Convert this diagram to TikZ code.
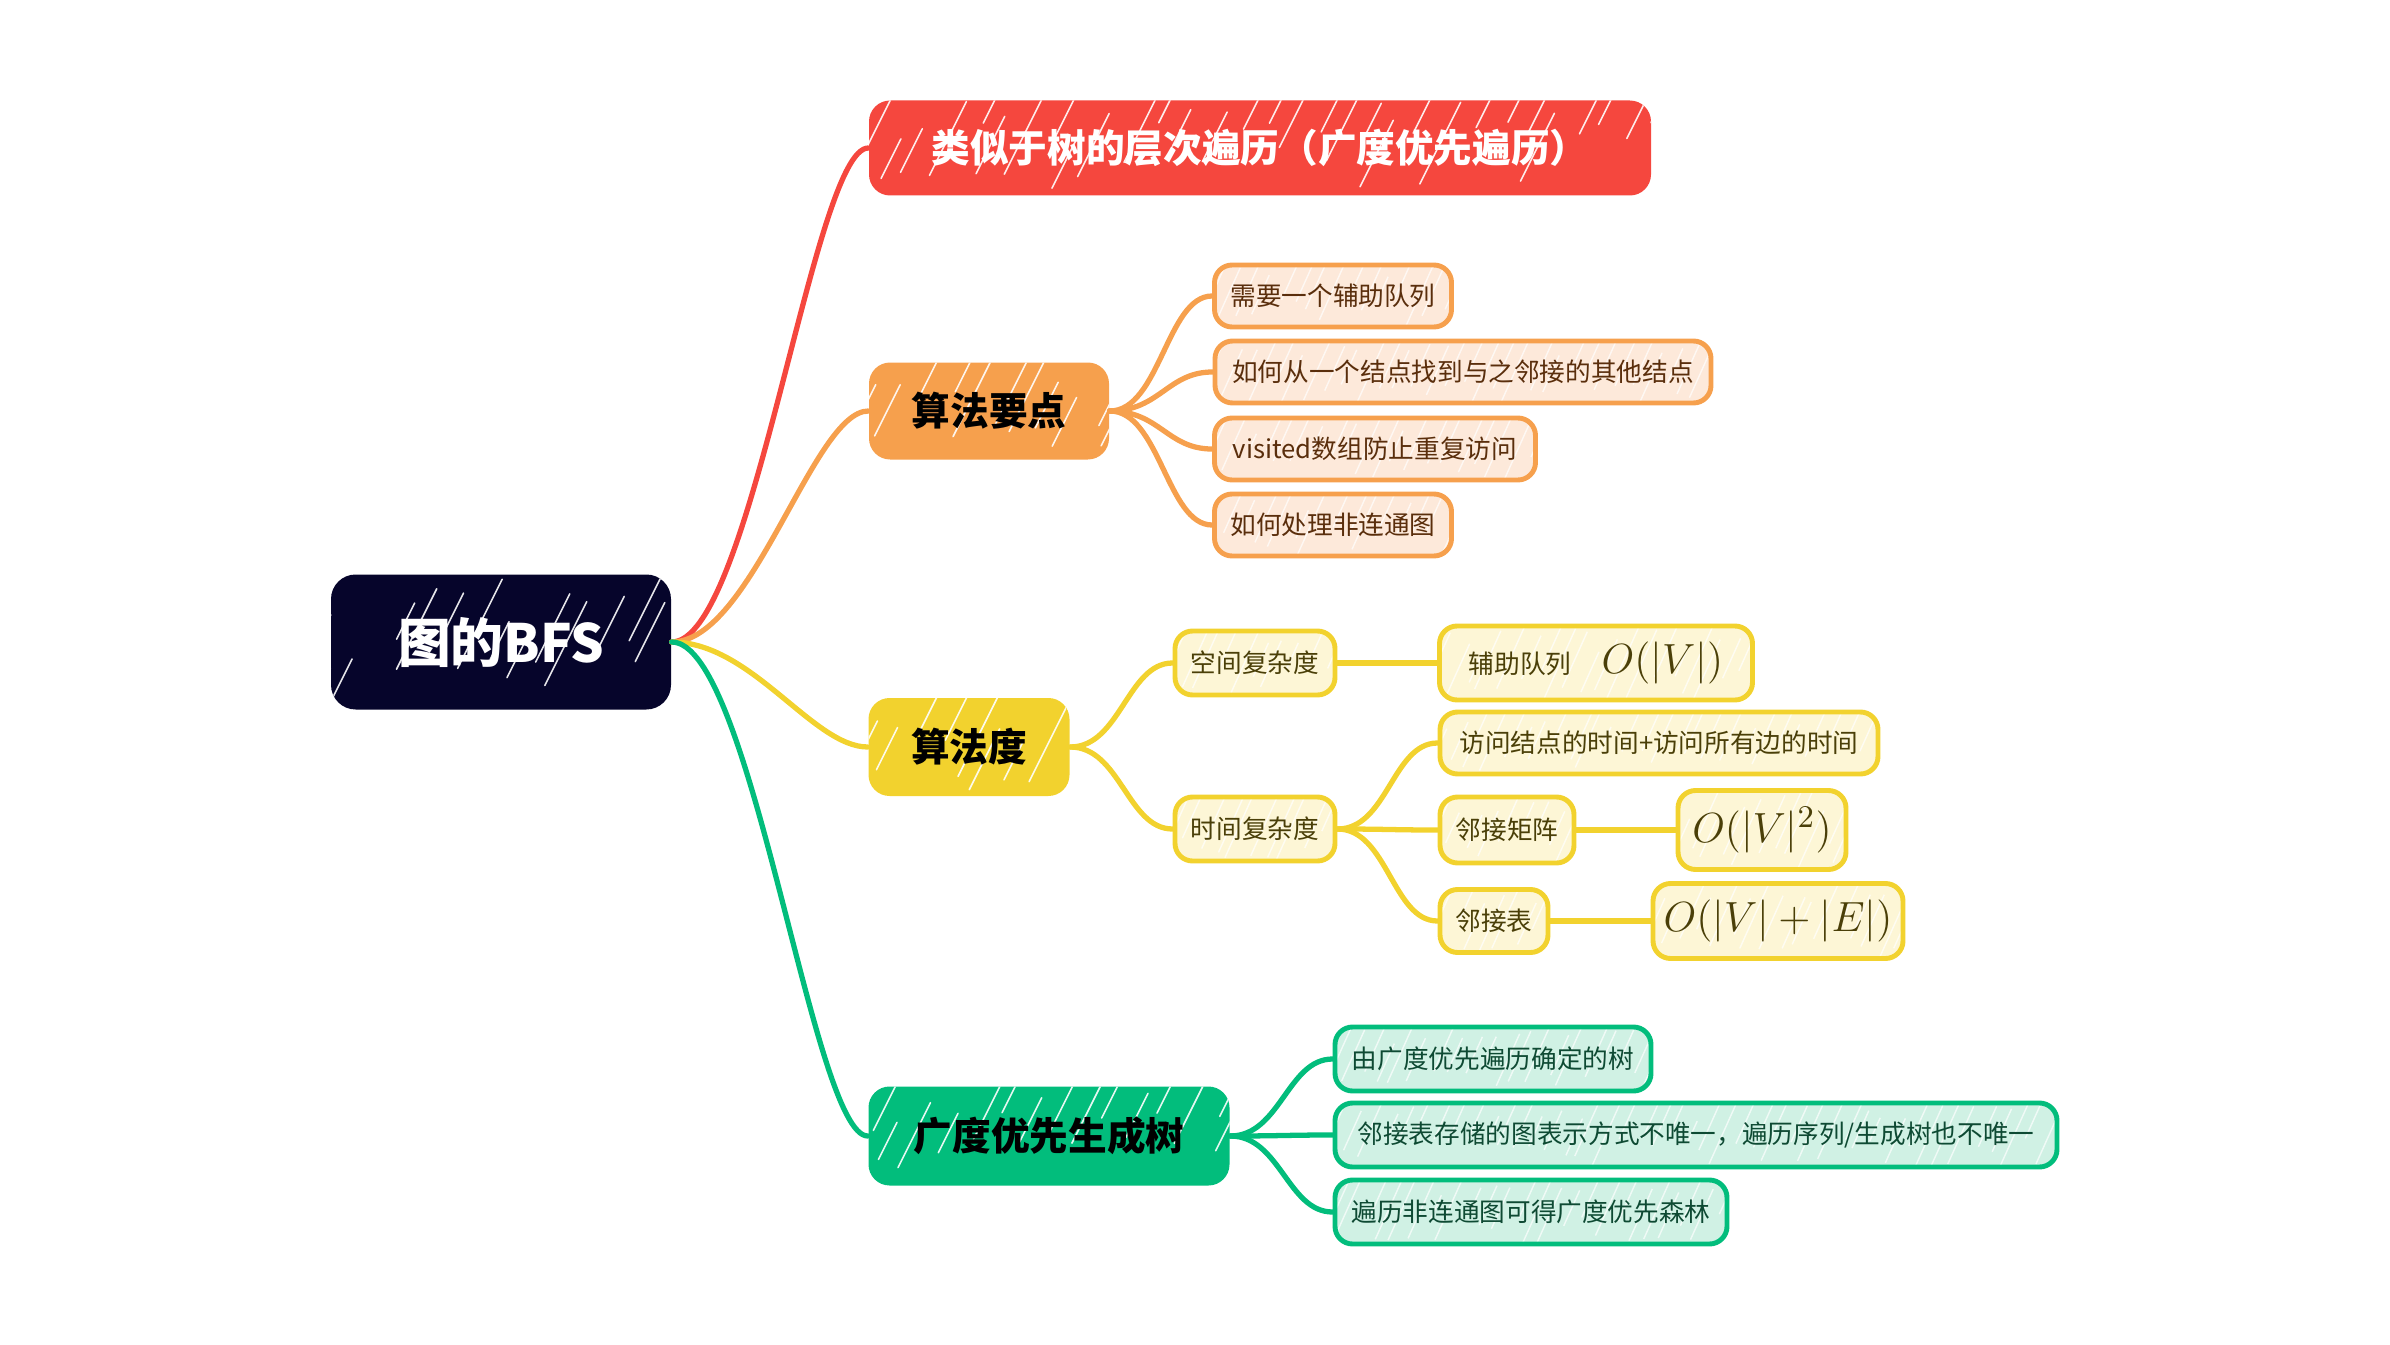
\documentclass[tikz,border=0pt]{standalone}
\usepackage[no-math]{fontspec}
\setmainfont{Noto Sans CJK SC}
\usetikzlibrary{calc}

\definecolor{rootc}{HTML}{06052B}
\definecolor{redc}{HTML}{F5473E}
\definecolor{orangec}{HTML}{F6A04D}
\definecolor{yellowc}{HTML}{F2D22E}
\definecolor{greenc}{HTML}{02BD7C}
\definecolor{orangelt}{HTML}{FDE9DA}
\definecolor{yellowlt}{HTML}{FDF6D6}
\definecolor{greenlt}{HTML}{D0F1E4}
\definecolor{orangetx}{HTML}{5A2E0C}
\definecolor{yellowtx}{HTML}{4A3F08}
\definecolor{greentx}{HTML}{0E4A33}

\tikzset{
  hatch/.style={path picture={
    \foreach \k in {0,...,34}{
      \pgfmathsetmacro{\xs}{-0.8+\k*0.26+0.07*rand}
      \pgfmathsetmacro{\ya}{0.05+0.7*rnd}
      \pgfmathsetmacro{\yb}{\ya+0.3+0.6*rnd}
      \draw[white, line width=0.45pt, line cap=round, opacity=0.9]
        ($(path picture bounding box.south west)+(\xs+0.5*\ya,\ya)$) --
        ($(path picture bounding box.south west)+(\xs+0.5*\yb,\yb)$);
    }}},
  lighthatch/.style={path picture={
    \foreach \k in {0,...,46}{
      \pgfmathsetmacro{\xs}{-0.5+\k*0.17+0.05*rand}
      \pgfmathsetmacro{\ya}{0.3*rnd}
      \pgfmathsetmacro{\yb}{0.45+0.4*rnd}
      \draw[white, line width=0.4pt, opacity=0.7]
        ($(path picture bounding box.south west)+(\xs+0.45*\ya,\ya)$) --
        ($(path picture bounding box.south west)+(\xs+0.45*\yb,\yb)$);
    }}},
  rootbox/.style={fill=rootc, rounded corners=7pt, minimum width=3.40cm, minimum height=1.35cm,
    inner sep=0pt, text=white, font=\fontsize{15}{18}\selectfont\bfseries, hatch},
  mainbox/.style={rounded corners=6pt, minimum height=0.97cm, inner sep=0pt,
    font=\fontsize{11}{13}\selectfont\bfseries, hatch},
  subbox/.style={draw, line width=1.4pt, rounded corners=5pt, minimum height=0.62cm,
    inner sep=0pt, font=\fontsize{7.3}{9}\selectfont, lighthatch},
  osub/.style={subbox, draw=orangec, fill=orangelt, text=orangetx},
  ysub/.style={subbox, draw=yellowc, fill=yellowlt, text=yellowtx},
  gsub/.style={subbox, draw=greenc, fill=greenlt, text=greentx},
  branch/.style={line width=1.5pt, line cap=round},
}

\begin{document}
\begin{tikzpicture}
    \pgfmathsetseed{12}
    \useasboundingbox (0,0) rectangle (23.9,13.44);

    % 根节点
    \node[rootbox] (root) at (5.01,7.02) {图的BFS};

    % 主分支
    \node[mainbox, fill=redc, text=white, minimum width=7.82cm, minimum height=0.95cm]
        (trav) at (12.60,11.96) {类似于树的层次遍历（广度优先遍历）};
    \node[mainbox, fill=orangec, minimum width=2.40cm] (keys) at (9.89,9.33) {算法要点};
    \node[mainbox, fill=yellowc, minimum width=2.01cm, minimum height=0.98cm] (cost) at (9.69,5.97) {算法度};
    \node[mainbox, fill=greenc, minimum width=3.61cm, minimum height=0.99cm] (tree) at (10.49,2.08) {广度优先生成树};

    % 算法要点
    \node[osub, minimum width=2.37cm] (k1) at (13.33,10.48) {需要一个辅助队列};
    \node[osub, minimum width=4.96cm] (k2) at (14.63,9.72) {如何从一个结点找到与之邻接的其他结点};
    \node[osub, minimum width=3.21cm] (k3) at (13.75,8.95) {visited数组防止重复访问};
    \node[osub, minimum width=2.37cm] (k4) at (13.33,8.19) {如何处理非连通图};

    % 算法度
    \node[ysub, minimum width=1.60cm, minimum height=0.64cm] (space) at (12.55,6.81) {空间复杂度};
    \node[ysub, minimum width=1.60cm, minimum height=0.64cm] (time) at (12.55,5.15) {时间复杂度};
    \node[ysub, minimum width=3.13cm, minimum height=0.74cm] (spq) at (15.96,6.81)
        {辅助队列\hspace{0.3cm}{\fontsize{12}{14}\selectfont$O(|V|)$}\hspace{0.25cm}};
    \node[ysub, minimum width=4.38cm] (sum) at (16.59,6.01) {访问结点的时间+访问所有边的时间};
    \node[ysub, minimum width=1.34cm, minimum height=0.66cm] (mat) at (15.07,5.14) {邻接矩阵};
    \node[ysub, minimum width=1.68cm, minimum height=0.79cm] (matO) at (17.62,5.14)
        {\fontsize{12.5}{15}\selectfont$O(|V|^2)$};
    \node[ysub, minimum width=1.08cm, minimum height=0.63cm] (lst) at (14.94,4.23) {邻接表};
    \node[ysub, minimum width=2.50cm, minimum height=0.75cm] (lstO) at (17.78,4.23)
        {\fontsize{12.5}{15}\selectfont$O(|V|+|E|)$};

    % 广度优先生成树
    \node[gsub, minimum width=3.16cm, minimum height=0.64cm] (t1) at (14.93,2.85) {由广度优先遍历确定的树};
    \node[gsub, minimum width=7.22cm, minimum height=0.64cm] (t2) at (16.96,2.09) {邻接表存储的图表示方式不唯一，遍历序列/生成树也不唯一};
    \node[gsub, minimum width=3.92cm, minimum height=0.64cm] (t3) at (15.31,1.32) {遍历非连通图可得广度优先森林};

    % 连线
    \foreach \m/\c in {trav/redc, keys/orangec, cost/yellowc, tree/greenc}
        \draw[branch, \c] (root.east) .. controls +(0.8,0) and +(-0.55,0) .. (\m.west);
    \foreach \s in {k1,k2,k3,k4}
        \draw[branch, orangec] (keys.east) .. controls +(0.5,0) and +(-0.45,0) .. (\s.west);
    \foreach \s in {space,time}
        \draw[branch, yellowc] (cost.east) .. controls +(0.5,0) and +(-0.45,0) .. (\s.west);
    \foreach \s in {sum,mat,lst}
        \draw[branch, yellowc] (time.east) .. controls +(0.5,0) and +(-0.45,0) .. (\s.west);
    \draw[branch, yellowc] (space) -- (spq);
    \draw[branch, yellowc] (mat) -- (matO);
    \draw[branch, yellowc] (lst) -- (lstO);
    \foreach \s in {t1,t2,t3}
        \draw[branch, greenc] (tree.east) .. controls +(0.5,0) and +(-0.45,0) .. (\s.west);
\end{tikzpicture}
\end{document}
